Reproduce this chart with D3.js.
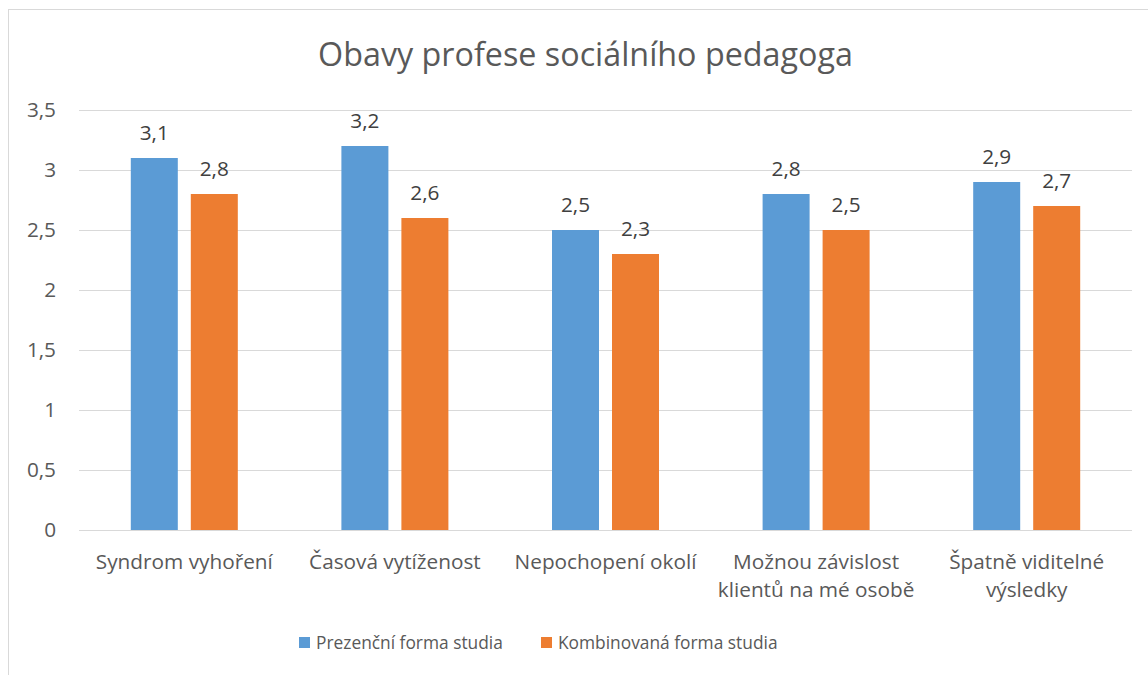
<!DOCTYPE html>
<html><head><meta charset="utf-8">
<script src="https://cdn.jsdelivr.net/npm/d3@7"></script>
<style>body{margin:0;background:#fff}svg{display:block}text{font-family:"Open Sans",sans-serif}</style>
</head><body>
<svg id="c" width="1148" height="675"></svg>
<script>
const categories = ["Syndrom vyhoření", "Časová vytíženost", "Nepochopení okolí", "Možnou závislost klientů na mé osobě", "Špatně viditelné výsledky"];
const categoryLines = [["Syndrom vyhoření"], ["Časová vytíženost"], ["Nepochopení okolí"], ["Možnou závislost", "klientů na mé osobě"], ["Špatně viditelné", "výsledky"]];
const seriesNames = ["Prezenční forma studia", "Kombinovaná forma studia"];
const prezencni = [3.1, 3.2, 2.5, 2.8, 2.9];
const kombinovana = [2.8, 2.6, 2.3, 2.5, 2.7];
const yTicks = [0, 0.5, 1, 1.5, 2, 2.5, 3, 3.5];
const colors = ["#5b9bd5", "#ed7d31"];
const title = "Obavy profese sociálního pedagoga";

const svg = d3.select("#c");
const fmt = v => String(v).replace(".", ",");
const L = 79, R = 1132, T = 110, B = 530;

function fitSize(str, target) {
  const t = svg.append("text").attr("font-size", 20).text(str);
  const w = t.node().getComputedTextLength();
  t.remove();
  return 20 * target / w;
}
const fs = fitSize("Syndrom vyhoření", 177);
const tfs = fitSize(title, 535);
const lfs = fitSize(seriesNames[0], 187);

svg.append("rect").attr("x", 8.5).attr("y", 9.5).attr("width", 1300).attr("height", 1000)
  .attr("fill", "none").attr("stroke", "#d9d9d9");

const x = d3.scaleBand().domain(categories).range([L, R]);
const y = d3.scaleLinear().domain([0, 3.5]).range([B, T]);

svg.append("g").selectAll("line").data(yTicks).join("line")
  .attr("x1", L).attr("x2", R).attr("y1", d => y(d) + 0.5).attr("y2", d => y(d) + 0.5)
  .attr("stroke", "#d9d9d9").attr("stroke-width", 1);

svg.append("g").selectAll("text").data(yTicks).join("text")
  .attr("x", 56).attr("y", d => y(d)).attr("dy", "0.35em").attr("text-anchor", "end")
  .attr("font-size", fs).attr("fill", "#595959").text(fmt);

const barW = 47, gap = 13;
const series = [prezencni, kombinovana];
series.forEach((vals, si) => {
  const off = si === 0 ? -(gap / 2 + barW) : gap / 2;
  const g = svg.append("g");
  g.selectAll("rect").data(vals).join("rect")
    .attr("x", (d, i) => x(categories[i]) + x.bandwidth() / 2 + off)
    .attr("y", d => y(d)).attr("width", barW).attr("height", d => y(0) - y(d))
    .attr("fill", colors[si]);
  g.selectAll("text").data(vals).join("text")
    .attr("x", (d, i) => x(categories[i]) + x.bandwidth() / 2 + off + barW / 2)
    .attr("y", d => y(d) - 18).attr("text-anchor", "middle")
    .attr("font-size", fs).attr("fill", "#404040").text(fmt);
});

svg.append("line").attr("x1", L).attr("x2", R).attr("y1", y(0) + 0.5).attr("y2", y(0) + 0.5)
  .attr("stroke", "#d9d9d9");

const cg = svg.append("g");
categories.forEach((c, i) => {
  const t = cg.append("text").attr("x", x(c) + x.bandwidth() / 2).attr("y", 569)
    .attr("text-anchor", "middle").attr("font-size", fs).attr("fill", "#595959");
  categoryLines[i].forEach((ln, j) => t.append("tspan").attr("x", x(c) + x.bandwidth() / 2).attr("dy", j ? 28 : 0).text(ln));
});

svg.append("text").attr("x", 585.5).attr("y", 66).attr("text-anchor", "middle")
  .attr("font-size", tfs).attr("fill", "#595959").text(title);

const legX = [299, 541];
seriesNames.forEach((n, i) => {
  svg.append("rect").attr("x", legX[i]).attr("y", 637).attr("width", 11).attr("height", 11).attr("fill", colors[i]);
  svg.append("text").attr("x", legX[i] + 17).attr("y", 643).attr("dy", "0.35em")
    .attr("font-size", lfs).attr("fill", "#595959").text(n);
});
</script>
</body></html>
